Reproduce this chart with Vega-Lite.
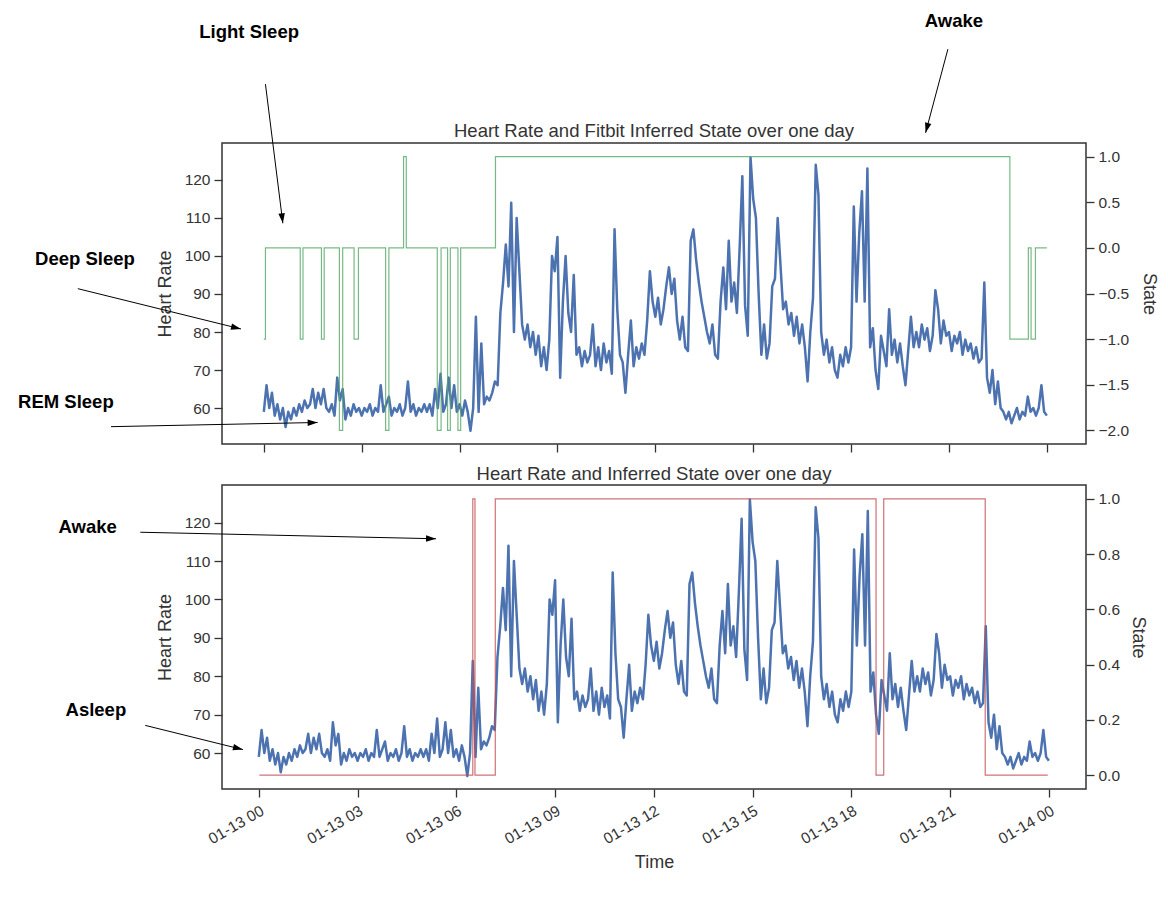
{
"$schema": "https://vega.github.io/schema/vega-lite/v6.json",
"background": "white",
"padding": {"left": 17, "top": 11, "right": 5, "bottom": 5},
"spacing": 9,
"config": {
  "font": "Liberation Sans",
  "view": {"stroke": "#333333", "strokeWidth": 1.5},
  "axis": {"grid": false, "domain": false, "tickColor": "#333333", "tickSize": 8, "tickWidth": 1.3, "labelFont": "Liberation Sans", "labelFontSize": 15.5, "labelColor": "#333333", "titleFont": "Liberation Sans", "titleFontSize": 18, "titleFontWeight": "normal", "titleColor": "#333333", "labelPadding": 4, "labelOverlap": false, "labelFlush": false},
  "title": {"font": "Liberation Sans", "fontSize": 18.5, "fontWeight": "normal", "color": "#333333", "offset": 2, "baseline": "alphabetic", "frame": "group"}
},
"datasets": {
"hr": [
{"t":"2023-01-13T00:00","hr":59},{"t":"2023-01-13T00:05","hr":66},{"t":"2023-01-13T00:10","hr":60},{"t":"2023-01-13T00:15","hr":64},{"t":"2023-01-13T00:20","hr":58},{"t":"2023-01-13T00:25","hr":61},{"t":"2023-01-13T00:30","hr":57},{"t":"2023-01-13T00:35","hr":60},{"t":"2023-01-13T00:40","hr":55},{"t":"2023-01-13T00:45","hr":59},{"t":"2023-01-13T00:50","hr":57},{"t":"2023-01-13T00:55","hr":60},
{"t":"2023-01-13T01:00","hr":58},{"t":"2023-01-13T01:05","hr":61},{"t":"2023-01-13T01:10","hr":59},{"t":"2023-01-13T01:15","hr":62},{"t":"2023-01-13T01:20","hr":60},{"t":"2023-01-13T01:25","hr":61},{"t":"2023-01-13T01:30","hr":65},{"t":"2023-01-13T01:35","hr":60},{"t":"2023-01-13T01:40","hr":64},{"t":"2023-01-13T01:45","hr":61},{"t":"2023-01-13T01:50","hr":65},{"t":"2023-01-13T01:55","hr":60},
{"t":"2023-01-13T02:00","hr":59},{"t":"2023-01-13T02:05","hr":61},{"t":"2023-01-13T02:10","hr":58},{"t":"2023-01-13T02:15","hr":68},{"t":"2023-01-13T02:20","hr":62},{"t":"2023-01-13T02:25","hr":65},{"t":"2023-01-13T02:30","hr":57},{"t":"2023-01-13T02:35","hr":60},{"t":"2023-01-13T02:40","hr":58},{"t":"2023-01-13T02:45","hr":61},{"t":"2023-01-13T02:50","hr":59},{"t":"2023-01-13T02:55","hr":60},
{"t":"2023-01-13T03:00","hr":58},{"t":"2023-01-13T03:05","hr":60},{"t":"2023-01-13T03:10","hr":59},{"t":"2023-01-13T03:15","hr":61},{"t":"2023-01-13T03:20","hr":58},{"t":"2023-01-13T03:25","hr":60},{"t":"2023-01-13T03:30","hr":59},{"t":"2023-01-13T03:35","hr":66},{"t":"2023-01-13T03:40","hr":59},{"t":"2023-01-13T03:45","hr":61},{"t":"2023-01-13T03:50","hr":63},{"t":"2023-01-13T03:55","hr":58},
{"t":"2023-01-13T04:00","hr":60},{"t":"2023-01-13T04:05","hr":59},{"t":"2023-01-13T04:10","hr":61},{"t":"2023-01-13T04:15","hr":58},{"t":"2023-01-13T04:20","hr":60},{"t":"2023-01-13T04:25","hr":67},{"t":"2023-01-13T04:30","hr":59},{"t":"2023-01-13T04:35","hr":61},{"t":"2023-01-13T04:40","hr":58},{"t":"2023-01-13T04:45","hr":60},{"t":"2023-01-13T04:50","hr":59},{"t":"2023-01-13T04:55","hr":61},
{"t":"2023-01-13T05:00","hr":59},{"t":"2023-01-13T05:05","hr":61},{"t":"2023-01-13T05:10","hr":58},{"t":"2023-01-13T05:15","hr":65},{"t":"2023-01-13T05:20","hr":60},{"t":"2023-01-13T05:25","hr":69},{"t":"2023-01-13T05:30","hr":59},{"t":"2023-01-13T05:35","hr":61},{"t":"2023-01-13T05:40","hr":68},{"t":"2023-01-13T05:45","hr":60},{"t":"2023-01-13T05:50","hr":66},{"t":"2023-01-13T05:55","hr":59},
{"t":"2023-01-13T06:00","hr":61},{"t":"2023-01-13T06:05","hr":58},{"t":"2023-01-13T06:10","hr":62},{"t":"2023-01-13T06:15","hr":59},{"t":"2023-01-13T06:20","hr":54},{"t":"2023-01-13T06:25","hr":60},{"t":"2023-01-13T06:30","hr":84},{"t":"2023-01-13T06:35","hr":59},{"t":"2023-01-13T06:40","hr":77},{"t":"2023-01-13T06:45","hr":61},{"t":"2023-01-13T06:50","hr":63},{"t":"2023-01-13T06:55","hr":62},
{"t":"2023-01-13T07:00","hr":64},{"t":"2023-01-13T07:05","hr":67},{"t":"2023-01-13T07:10","hr":66},{"t":"2023-01-13T07:15","hr":85},{"t":"2023-01-13T07:20","hr":93},{"t":"2023-01-13T07:25","hr":103},{"t":"2023-01-13T07:30","hr":92},{"t":"2023-01-13T07:35","hr":114},{"t":"2023-01-13T07:40","hr":80},{"t":"2023-01-13T07:45","hr":110},{"t":"2023-01-13T07:50","hr":96},{"t":"2023-01-13T07:55","hr":82},
{"t":"2023-01-13T08:00","hr":78},{"t":"2023-01-13T08:05","hr":82},{"t":"2023-01-13T08:10","hr":76},{"t":"2023-01-13T08:15","hr":80},{"t":"2023-01-13T08:20","hr":74},{"t":"2023-01-13T08:25","hr":79},{"t":"2023-01-13T08:30","hr":71},{"t":"2023-01-13T08:35","hr":76},{"t":"2023-01-13T08:40","hr":70},{"t":"2023-01-13T08:45","hr":78},{"t":"2023-01-13T08:50","hr":100},{"t":"2023-01-13T08:55","hr":96},
{"t":"2023-01-13T09:00","hr":105},{"t":"2023-01-13T09:05","hr":68},{"t":"2023-01-13T09:10","hr":88},{"t":"2023-01-13T09:15","hr":100},{"t":"2023-01-13T09:20","hr":85},{"t":"2023-01-13T09:25","hr":80},{"t":"2023-01-13T09:30","hr":95},{"t":"2023-01-13T09:35","hr":74},{"t":"2023-01-13T09:40","hr":76},{"t":"2023-01-13T09:45","hr":71},{"t":"2023-01-13T09:50","hr":75},{"t":"2023-01-13T09:55","hr":72},
{"t":"2023-01-13T10:00","hr":74},{"t":"2023-01-13T10:05","hr":82},{"t":"2023-01-13T10:10","hr":71},{"t":"2023-01-13T10:15","hr":76},{"t":"2023-01-13T10:20","hr":70},{"t":"2023-01-13T10:25","hr":77},{"t":"2023-01-13T10:30","hr":72},{"t":"2023-01-13T10:35","hr":75},{"t":"2023-01-13T10:40","hr":69},{"t":"2023-01-13T10:45","hr":107},{"t":"2023-01-13T10:50","hr":86},{"t":"2023-01-13T10:55","hr":74},
{"t":"2023-01-13T11:00","hr":72},{"t":"2023-01-13T11:05","hr":64},{"t":"2023-01-13T11:10","hr":74},{"t":"2023-01-13T11:15","hr":83},{"t":"2023-01-13T11:20","hr":71},{"t":"2023-01-13T11:25","hr":76},{"t":"2023-01-13T11:30","hr":73},{"t":"2023-01-13T11:35","hr":77},{"t":"2023-01-13T11:40","hr":74},{"t":"2023-01-13T11:45","hr":83},{"t":"2023-01-13T11:50","hr":96},{"t":"2023-01-13T11:55","hr":88},
{"t":"2023-01-13T12:00","hr":84},{"t":"2023-01-13T12:05","hr":89},{"t":"2023-01-13T12:10","hr":82},{"t":"2023-01-13T12:15","hr":86},{"t":"2023-01-13T12:20","hr":92},{"t":"2023-01-13T12:25","hr":97},{"t":"2023-01-13T12:30","hr":90},{"t":"2023-01-13T12:35","hr":94},{"t":"2023-01-13T12:40","hr":83},{"t":"2023-01-13T12:45","hr":78},{"t":"2023-01-13T12:50","hr":84},{"t":"2023-01-13T12:55","hr":76},
{"t":"2023-01-13T13:00","hr":75},{"t":"2023-01-13T13:05","hr":104},{"t":"2023-01-13T13:10","hr":107},{"t":"2023-01-13T13:15","hr":99},{"t":"2023-01-13T13:20","hr":93},{"t":"2023-01-13T13:25","hr":88},{"t":"2023-01-13T13:30","hr":84},{"t":"2023-01-13T13:35","hr":80},{"t":"2023-01-13T13:40","hr":77},{"t":"2023-01-13T13:45","hr":82},{"t":"2023-01-13T13:50","hr":74},{"t":"2023-01-13T13:55","hr":73},
{"t":"2023-01-13T14:00","hr":88},{"t":"2023-01-13T14:05","hr":97},{"t":"2023-01-13T14:10","hr":86},{"t":"2023-01-13T14:15","hr":104},{"t":"2023-01-13T14:20","hr":88},{"t":"2023-01-13T14:25","hr":93},{"t":"2023-01-13T14:30","hr":85},{"t":"2023-01-13T14:35","hr":102},{"t":"2023-01-13T14:40","hr":121},{"t":"2023-01-13T14:45","hr":87},{"t":"2023-01-13T14:50","hr":79},{"t":"2023-01-13T14:55","hr":126},
{"t":"2023-01-13T15:00","hr":115},{"t":"2023-01-13T15:05","hr":110},{"t":"2023-01-13T15:10","hr":90},{"t":"2023-01-13T15:15","hr":74},{"t":"2023-01-13T15:20","hr":82},{"t":"2023-01-13T15:25","hr":73},{"t":"2023-01-13T15:30","hr":77},{"t":"2023-01-13T15:35","hr":92},{"t":"2023-01-13T15:40","hr":94},{"t":"2023-01-13T15:45","hr":110},{"t":"2023-01-13T15:50","hr":98},{"t":"2023-01-13T15:55","hr":86},
{"t":"2023-01-13T16:00","hr":88},{"t":"2023-01-13T16:05","hr":82},{"t":"2023-01-13T16:10","hr":85},{"t":"2023-01-13T16:15","hr":79},{"t":"2023-01-13T16:20","hr":84},{"t":"2023-01-13T16:25","hr":77},{"t":"2023-01-13T16:30","hr":82},{"t":"2023-01-13T16:35","hr":76},{"t":"2023-01-13T16:40","hr":67},{"t":"2023-01-13T16:45","hr":80},{"t":"2023-01-13T16:50","hr":89},{"t":"2023-01-13T16:55","hr":124},
{"t":"2023-01-13T17:00","hr":116},{"t":"2023-01-13T17:05","hr":80},{"t":"2023-01-13T17:10","hr":74},{"t":"2023-01-13T17:15","hr":78},{"t":"2023-01-13T17:20","hr":72},{"t":"2023-01-13T17:25","hr":76},{"t":"2023-01-13T17:30","hr":70},{"t":"2023-01-13T17:35","hr":68},{"t":"2023-01-13T17:40","hr":74},{"t":"2023-01-13T17:45","hr":71},{"t":"2023-01-13T17:50","hr":76},{"t":"2023-01-13T17:55","hr":72},
{"t":"2023-01-13T18:00","hr":76},{"t":"2023-01-13T18:05","hr":113},{"t":"2023-01-13T18:10","hr":88},{"t":"2023-01-13T18:15","hr":106},{"t":"2023-01-13T18:20","hr":117},{"t":"2023-01-13T18:25","hr":88},{"t":"2023-01-13T18:30","hr":123},{"t":"2023-01-13T18:35","hr":76},{"t":"2023-01-13T18:40","hr":81},{"t":"2023-01-13T18:45","hr":70},{"t":"2023-01-13T18:50","hr":65},{"t":"2023-01-13T18:55","hr":79},
{"t":"2023-01-13T19:00","hr":75},{"t":"2023-01-13T19:05","hr":71},{"t":"2023-01-13T19:10","hr":86},{"t":"2023-01-13T19:15","hr":74},{"t":"2023-01-13T19:20","hr":78},{"t":"2023-01-13T19:25","hr":72},{"t":"2023-01-13T19:30","hr":77},{"t":"2023-01-13T19:35","hr":71},{"t":"2023-01-13T19:40","hr":66},{"t":"2023-01-13T19:45","hr":75},{"t":"2023-01-13T19:50","hr":84},{"t":"2023-01-13T19:55","hr":76},
{"t":"2023-01-13T20:00","hr":80},{"t":"2023-01-13T20:05","hr":76},{"t":"2023-01-13T20:10","hr":82},{"t":"2023-01-13T20:15","hr":78},{"t":"2023-01-13T20:20","hr":81},{"t":"2023-01-13T20:25","hr":75},{"t":"2023-01-13T20:30","hr":79},{"t":"2023-01-13T20:35","hr":91},{"t":"2023-01-13T20:40","hr":86},{"t":"2023-01-13T20:45","hr":77},{"t":"2023-01-13T20:50","hr":83},{"t":"2023-01-13T20:55","hr":79},
{"t":"2023-01-13T21:00","hr":80},{"t":"2023-01-13T21:05","hr":75},{"t":"2023-01-13T21:10","hr":79},{"t":"2023-01-13T21:15","hr":77},{"t":"2023-01-13T21:20","hr":80},{"t":"2023-01-13T21:25","hr":74},{"t":"2023-01-13T21:30","hr":78},{"t":"2023-01-13T21:35","hr":75},{"t":"2023-01-13T21:40","hr":77},{"t":"2023-01-13T21:45","hr":73},{"t":"2023-01-13T21:50","hr":76},{"t":"2023-01-13T21:55","hr":72},
{"t":"2023-01-13T22:00","hr":73},{"t":"2023-01-13T22:05","hr":93},{"t":"2023-01-13T22:10","hr":68},{"t":"2023-01-13T22:15","hr":64},{"t":"2023-01-13T22:20","hr":70},{"t":"2023-01-13T22:25","hr":61},{"t":"2023-01-13T22:30","hr":67},{"t":"2023-01-13T22:35","hr":60},{"t":"2023-01-13T22:40","hr":59},{"t":"2023-01-13T22:45","hr":57},{"t":"2023-01-13T22:50","hr":59},{"t":"2023-01-13T22:55","hr":56},
{"t":"2023-01-13T23:00","hr":58},{"t":"2023-01-13T23:05","hr":60},{"t":"2023-01-13T23:10","hr":57},{"t":"2023-01-13T23:15","hr":59},{"t":"2023-01-13T23:20","hr":58},{"t":"2023-01-13T23:25","hr":63},{"t":"2023-01-13T23:30","hr":59},{"t":"2023-01-13T23:35","hr":60},{"t":"2023-01-13T23:40","hr":58},{"t":"2023-01-13T23:45","hr":60},{"t":"2023-01-13T23:50","hr":66},{"t":"2023-01-13T23:55","hr":59},
{"t":"2023-01-14T00:00","hr":58}
],
"fitbit": [
{"t":"2023-01-13T00:00","state":-1},{"t":"2023-01-13T00:03","state":0},{"t":"2023-01-13T01:07","state":-1},{"t":"2023-01-13T01:12","state":0},{"t":"2023-01-13T01:46","state":-1},{"t":"2023-01-13T01:51","state":0},{"t":"2023-01-13T02:19","state":-2},{"t":"2023-01-13T02:25","state":0},{"t":"2023-01-13T02:46","state":-1},{"t":"2023-01-13T02:54","state":0},{"t":"2023-01-13T03:44","state":-2},{"t":"2023-01-13T03:50","state":0},{"t":"2023-01-13T04:17","state":1},{"t":"2023-01-13T04:22","state":0},{"t":"2023-01-13T05:19","state":-2},{"t":"2023-01-13T05:26","state":0},{"t":"2023-01-13T05:38","state":-2},{"t":"2023-01-13T05:43","state":0},{"t":"2023-01-13T05:57","state":-2},{"t":"2023-01-13T06:02","state":0},{"t":"2023-01-13T07:06","state":1},{"t":"2023-01-13T22:52","state":-1},{"t":"2023-01-13T23:26","state":0},{"t":"2023-01-13T23:31","state":-1},{"t":"2023-01-13T23:39","state":0},{"t":"2023-01-14T00:00","state":0}
],
"inferred": [
{"t":"2023-01-13T00:01","state":0},{"t":"2023-01-13T06:30","state":1},{"t":"2023-01-13T06:34","state":0},{"t":"2023-01-13T07:11","state":1},{"t":"2023-01-13T18:45","state":0},{"t":"2023-01-13T18:59","state":1},{"t":"2023-01-13T22:04","state":0},{"t":"2023-01-13T23:58","state":0}
],
"notes": [
{"panel":"top","label":"Light Sleep","tx":"2023-01-12T23:33","ty":158.8,"ax":"2023-01-13T00:03","ay":145.2,"hx":"2023-01-13T00:35","hy":108.6},
{"panel":"top","label":"Deep Sleep","tx":"2023-01-12T18:31","ty":99.2,"ax":"2023-01-12T18:18","ay":91.4,"hx":"2023-01-12T23:18","hy":80.8},
{"panel":"top","label":"REM Sleep","tx":"2023-01-12T17:56","ty":61.5,"ax":"2023-01-12T19:19","ay":55.1,"hx":"2023-01-13T01:39","hy":56.2},
{"panel":"top","label":"Awake","tx":"2023-01-13T21:09","ty":161.7,"ax":"2023-01-13T20:58","ay":154.4,"hx":"2023-01-13T20:17","hy":132.4},
{"panel":"bottom","label":"Awake","tx":"2023-01-12T18:48","ty":118.8,"ax":"2023-01-12T20:24","ay":117.5,"hx":"2023-01-13T05:23","hy":115.8},
{"panel":"bottom","label":"Asleep","tx":"2023-01-12T19:03","ty":71.1,"ax":"2023-01-12T20:33","ay":67.2,"hx":"2023-01-12T23:31","hy":60.9}
]
},
"vconcat": [
{
  "width": 864, "height": 301,
  "title": {"text": "Heart Rate and Fitbit Inferred State over one day", "dy": 130},
  "layer": [
    {"data": {"name": "hr"}, "mark": {"type": "line", "color": "#4C72B0", "strokeWidth": 2.5, "strokeJoin": "round"},
     "encoding": {
      "x": {"field": "t", "type": "temporal", "scale": {"domain": [{"year":2023,"month":1,"date":12,"hours":22,"minutes":43,"seconds":6},{"year":2023,"month":1,"date":14,"hours":1,"minutes":12}]},
            "axis": {"values": [{"year":2023,"month":1,"date":13,"hours":0},{"year":2023,"month":1,"date":13,"hours":3},{"year":2023,"month":1,"date":13,"hours":6},{"year":2023,"month":1,"date":13,"hours":9},{"year":2023,"month":1,"date":13,"hours":12},{"year":2023,"month":1,"date":13,"hours":15},{"year":2023,"month":1,"date":13,"hours":18},{"year":2023,"month":1,"date":13,"hours":21},{"year":2023,"month":1,"date":14,"hours":0}], "labels": false, "title": null}},
      "y": {"field": "hr", "type": "quantitative", "scale": {"domain": [50.54, 129.72], "nice": false, "zero": false},
            "axis": {"orient": "left", "values": [60,70,80,90,100,110,120], "title": "Heart Rate", "titlePadding": 10}}
     }},
    {"data": {"name": "fitbit"}, "mark": {"type": "line", "interpolate": "step-after", "color": "#55A868", "strokeWidth": 1.2, "opacity": 0.8},
     "encoding": {
      "x": {"field": "t", "type": "temporal"},
      "y": {"field": "state", "type": "quantitative", "scale": {"domain": [-2.15, 1.15], "nice": false, "zero": false},
            "axis": {"orient": "right", "values": [-2,-1.5,-1,-0.5,0,0.5,1], "format": ".1f", "labelExpr": "replace(datum.label, '-', '−')", "title": "State", "titlePadding": 11}}
     }},
    {"data": {"name": "notes"}, "transform": [{"filter": "datum.panel == 'top'"}],
     "mark": {"type": "rule", "color": "black", "strokeWidth": 1},
     "encoding": {
      "x": {"field": "ax", "type": "temporal"}, "x2": {"field": "hx"},
      "y": {"field": "ay", "type": "quantitative", "scale": {"domain": [50.54, 129.72], "nice": false, "zero": false}, "axis": null}, "y2": {"field": "hy"}
     }},
    {"data": {"name": "notes"}, "transform": [{"filter": "datum.panel == 'top'"}],
     "mark": {"type": "text", "font": "Liberation Sans", "fontWeight": "bold", "fontSize": 18.5, "color": "black", "align": "center", "baseline": "middle"},
     "encoding": {
      "x": {"field": "tx", "type": "temporal"},
      "y": {"field": "ty", "type": "quantitative", "scale": {"domain": [50.54, 129.72], "nice": false, "zero": false}, "axis": null},
      "text": {"field": "label"}
     }},
    {"data": {"name": "notes"}, "transform": [{"filter": "datum.panel == 'top' && datum.label == 'Light Sleep'"}],
     "mark": {"type": "point", "shape": "M0,0L-0.65,2L0.65,2Z", "filled": true, "color": "black", "opacity": 1, "size": 100, "angle": 173, "strokeWidth": 0},
     "encoding": {"x": {"field": "hx", "type": "temporal"}, "y": {"field": "hy", "type": "quantitative", "scale": {"domain": [50.54, 129.72], "nice": false, "zero": false}, "axis": null}}},
    {"data": {"name": "notes"}, "transform": [{"filter": "datum.panel == 'top' && datum.label == 'Deep Sleep'"}],
     "mark": {"type": "point", "shape": "M0,0L-0.65,2L0.65,2Z", "filled": true, "color": "black", "opacity": 1, "size": 100, "angle": 104, "strokeWidth": 0},
     "encoding": {"x": {"field": "hx", "type": "temporal"}, "y": {"field": "hy", "type": "quantitative", "scale": {"domain": [50.54, 129.72], "nice": false, "zero": false}, "axis": null}}},
    {"data": {"name": "notes"}, "transform": [{"filter": "datum.panel == 'top' && datum.label == 'REM Sleep'"}],
     "mark": {"type": "point", "shape": "M0,0L-0.65,2L0.65,2Z", "filled": true, "color": "black", "opacity": 1, "size": 100, "angle": 89, "strokeWidth": 0},
     "encoding": {"x": {"field": "hx", "type": "temporal"}, "y": {"field": "hy", "type": "quantitative", "scale": {"domain": [50.54, 129.72], "nice": false, "zero": false}, "axis": null}}},
    {"data": {"name": "notes"}, "transform": [{"filter": "datum.panel == 'top' && datum.label == 'Awake'"}],
     "mark": {"type": "point", "shape": "M0,0L-0.65,2L0.65,2Z", "filled": true, "color": "black", "opacity": 1, "size": 100, "angle": 195, "strokeWidth": 0},
     "encoding": {"x": {"field": "hx", "type": "temporal"}, "y": {"field": "hy", "type": "quantitative", "scale": {"domain": [50.54, 129.72], "nice": false, "zero": false}, "axis": null}}}
  ],
  "resolve": {"scale": {"y": "independent"}, "axis": {"y": "independent"}}
},
{
  "width": 864, "height": 304,
  "title": {"text": "Heart Rate and Inferred State over one day"},
  "layer": [
    {"data": {"name": "hr"}, "mark": {"type": "line", "color": "#4C72B0", "strokeWidth": 2.5, "strokeJoin": "round"},
     "encoding": {
      "x": {"field": "t", "type": "temporal", "scale": {"domain": [{"year":2023,"month":1,"date":12,"hours":22,"minutes":52,"seconds":54},{"year":2023,"month":1,"date":14,"hours":1,"minutes":7,"seconds":41}]},
            "axis": {"values": [{"year":2023,"month":1,"date":13,"hours":0},{"year":2023,"month":1,"date":13,"hours":3},{"year":2023,"month":1,"date":13,"hours":6},{"year":2023,"month":1,"date":13,"hours":9},{"year":2023,"month":1,"date":13,"hours":12},{"year":2023,"month":1,"date":13,"hours":15},{"year":2023,"month":1,"date":13,"hours":18},{"year":2023,"month":1,"date":13,"hours":21},{"year":2023,"month":1,"date":14,"hours":0}], "format": "%m-%d %H", "labelAngle": -30, "labelAlign": "right", "labelBaseline": "top", "labelPadding": 6, "title": "Time", "titlePadding": 6}},
      "y": {"field": "hr", "type": "quantitative", "scale": {"domain": [50.64, 129.8], "nice": false, "zero": false},
            "axis": {"orient": "left", "values": [60,70,80,90,100,110,120], "title": "Heart Rate", "titlePadding": 10}}
     }},
    {"data": {"name": "inferred"}, "mark": {"type": "line", "interpolate": "step-after", "color": "#C44E52", "strokeWidth": 1.2, "opacity": 0.8},
     "encoding": {
      "x": {"field": "t", "type": "temporal"},
      "y": {"field": "state", "type": "quantitative", "scale": {"domain": [-0.05, 1.05], "nice": false, "zero": false},
            "axis": {"orient": "right", "values": [0,0.2,0.4,0.6,0.8,1], "format": ".1f", "title": "State", "titlePadding": 9}}
     }},
    {"data": {"name": "notes"}, "transform": [{"filter": "datum.panel == 'bottom'"}],
     "mark": {"type": "rule", "color": "black", "strokeWidth": 1},
     "encoding": {
      "x": {"field": "ax", "type": "temporal"}, "x2": {"field": "hx"},
      "y": {"field": "ay", "type": "quantitative", "scale": {"domain": [50.64, 129.8], "nice": false, "zero": false}, "axis": null}, "y2": {"field": "hy"}
     }},
    {"data": {"name": "notes"}, "transform": [{"filter": "datum.panel == 'bottom'"}],
     "mark": {"type": "text", "font": "Liberation Sans", "fontWeight": "bold", "fontSize": 18.5, "color": "black", "align": "center", "baseline": "middle"},
     "encoding": {
      "x": {"field": "tx", "type": "temporal"},
      "y": {"field": "ty", "type": "quantitative", "scale": {"domain": [50.64, 129.8], "nice": false, "zero": false}, "axis": null},
      "text": {"field": "label"}
     }},
    {"data": {"name": "notes"}, "transform": [{"filter": "datum.panel == 'bottom' && datum.label == 'Awake'"}],
     "mark": {"type": "point", "shape": "M0,0L-0.65,2L0.65,2Z", "filled": true, "color": "black", "opacity": 1, "size": 100, "angle": 91, "strokeWidth": 0},
     "encoding": {"x": {"field": "hx", "type": "temporal"}, "y": {"field": "hy", "type": "quantitative", "scale": {"domain": [50.64, 129.8], "nice": false, "zero": false}, "axis": null}}},
    {"data": {"name": "notes"}, "transform": [{"filter": "datum.panel == 'bottom' && datum.label == 'Asleep'"}],
     "mark": {"type": "point", "shape": "M0,0L-0.65,2L0.65,2Z", "filled": true, "color": "black", "opacity": 1, "size": 100, "angle": 104, "strokeWidth": 0},
     "encoding": {"x": {"field": "hx", "type": "temporal"}, "y": {"field": "hy", "type": "quantitative", "scale": {"domain": [50.64, 129.8], "nice": false, "zero": false}, "axis": null}}}
  ],
  "resolve": {"scale": {"y": "independent"}, "axis": {"y": "independent"}}
}
]
}
